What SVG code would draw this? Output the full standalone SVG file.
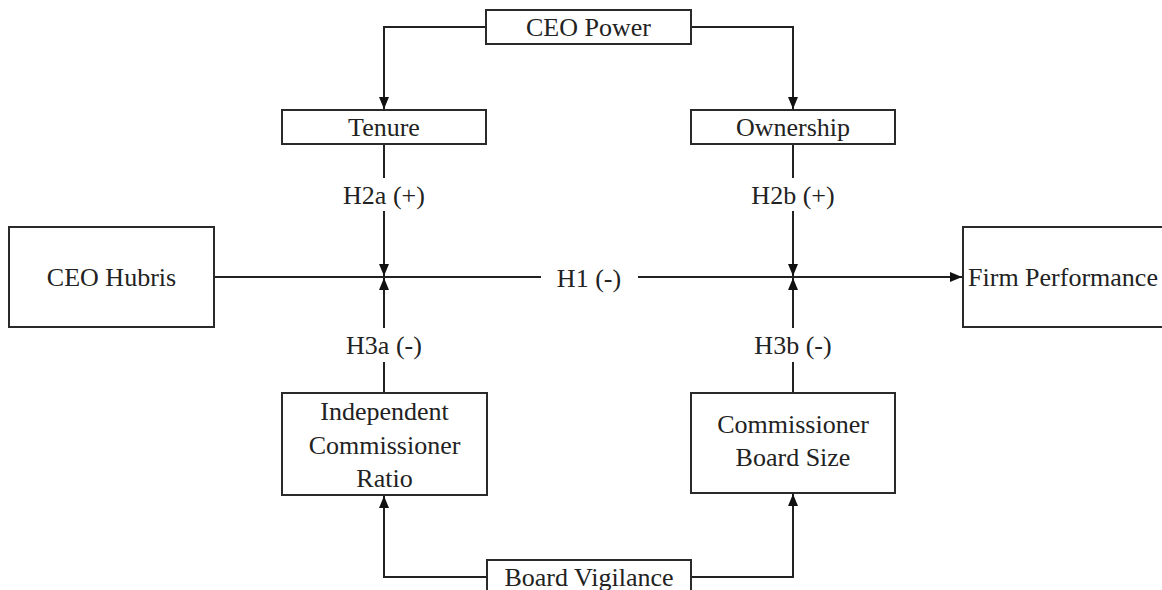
<svg xmlns="http://www.w3.org/2000/svg" width="1162" height="590" viewBox="0 0 1162 590">
<style>
.box{fill:#fff;stroke:#2a2a2a;stroke-width:2}
.t{font-family:"Liberation Serif","Times New Roman",serif;font-size:26px;fill:#222;text-anchor:middle}
.c{fill:none;stroke:#222;stroke-width:2}
</style>
<defs>
<marker id="ah" viewBox="0 0 12 10" refX="12" refY="5" markerWidth="13" markerHeight="10" markerUnits="userSpaceOnUse" orient="auto">
<path d="M0,0 L12,5 L0,10 z" fill="#111"/>
</marker>
</defs>
<rect width="1162" height="590" fill="#fff"/>
<g id="connectors">
<path class="c" d="M486,27 H384 V109" marker-end="url(#ah)"/>
<path class="c" d="M691,27 H793 V109" marker-end="url(#ah)"/>
<path class="c" d="M384,144 V178"/>
<path class="c" d="M384,211 V276" marker-end="url(#ah)"/>
<path class="c" d="M793,144 V178"/>
<path class="c" d="M793,211 V276" marker-end="url(#ah)"/>
<path class="c" d="M384,393 V362"/>
<path class="c" d="M384,328 V278" marker-end="url(#ah)"/>
<path class="c" d="M793,393 V362"/>
<path class="c" d="M793,328 V278" marker-end="url(#ah)"/>
<path class="c" d="M214,277 H541"/>
<path class="c" d="M638,277 H962" marker-end="url(#ah)"/>
<path class="c" d="M487,577 H384 V496" marker-end="url(#ah)"/>
<path class="c" d="M691,577 H793 V494" marker-end="url(#ah)"/>
<text class="t" x="384" y="204">H2a (+)</text>
<text class="t" x="793" y="204">H2b (+)</text>
<text class="t" x="384" y="354">H3a (-)</text>
<text class="t" x="793" y="354">H3b (-)</text>
<text class="t" x="589" y="287">H1 (-)</text>
</g>
<g id="ceo-power"><rect class="box" x="486" y="10" width="205" height="34"/><text class="t" x="588.5" y="36">CEO Power</text></g>
<g id="tenure"><rect class="box" x="282" y="110" width="204" height="34"/><text class="t" x="384" y="136">Tenure</text></g>
<g id="ownership"><rect class="box" x="691" y="110" width="204" height="34"/><text class="t" x="793" y="136">Ownership</text></g>
<g id="ceo-hubris"><rect class="box" x="9" y="227" width="205" height="100"/><text class="t" x="111.5" y="286">CEO Hubris</text></g>
<g id="firm-performance"><rect class="box" x="963" y="227" width="205" height="100"/><text class="t" x="1063" y="286">Firm Performance</text></g>
<g id="independent-commissioner-ratio"><rect class="box" x="282" y="393" width="205" height="102"/><text class="t" x="384.5" y="420">Independent</text><text class="t" x="384.5" y="454">Commissioner</text><text class="t" x="384.5" y="487">Ratio</text></g>
<g id="commissioner-board-size"><rect class="box" x="691" y="393" width="204" height="100"/><text class="t" x="793" y="433">Commissioner</text><text class="t" x="793" y="466">Board Size</text></g>
<g id="board-vigilance"><rect class="box" x="487" y="560" width="204" height="40"/><text class="t" x="589" y="586">Board Vigilance</text></g>
</svg>
